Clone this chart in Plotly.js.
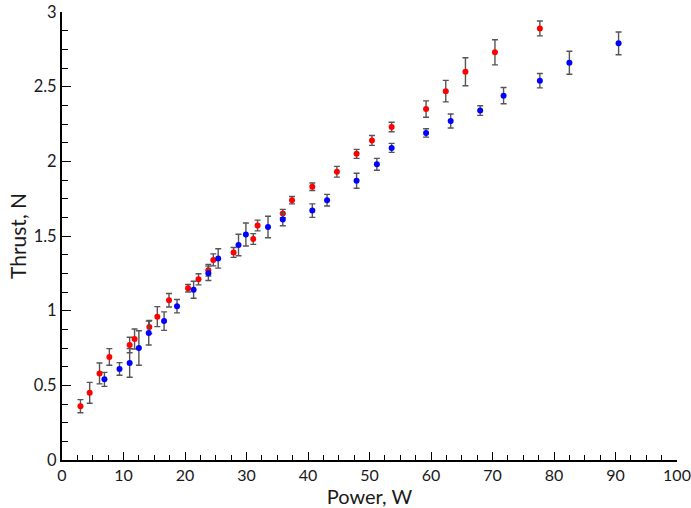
<!DOCTYPE html>
<html>
<head>
<meta charset="utf-8">
<script src="https://cdn.plot.ly/plotly-3.0.1.min.js"></script>
<style>
  html, body { margin: 0; padding: 0; background: #fff; }
  #chart { width: 691px; height: 508px; }
</style>
</head>
<body>
<div id="chart"></div>
<script>
// Thrust vs. electrical power, two data sets with measurement uncertainty
const redPower  = [3.0, 4.5, 6.1, 7.7, 11.0, 11.8, 14.2, 15.5, 17.4, 20.5, 22.2, 23.8, 24.6, 27.9,
                   31.1, 31.8, 35.9, 37.4, 40.7, 44.7, 47.9, 50.4, 53.6, 59.2, 62.4, 65.6, 70.4, 77.7];
const redThrust = [0.36, 0.45, 0.58, 0.69, 0.77, 0.81, 0.89, 0.96, 1.07, 1.15, 1.21, 1.27, 1.34, 1.39,
                   1.48, 1.57, 1.65, 1.74, 1.83, 1.93, 2.05, 2.14, 2.23, 2.35, 2.47, 2.60, 2.73, 2.89];
const redErr    = [0.044, 0.07, 0.07, 0.056, 0.052, 0.067, 0.044, 0.067, 0.045, 0.025, 0.037, 0.039, 0.04, 0.033,
                   0.036, 0.036, 0.028, 0.025, 0.025, 0.036, 0.03, 0.033, 0.032, 0.055, 0.072, 0.094, 0.084, 0.05];

const bluePower  = [6.9, 9.35, 11.0, 12.5, 14.1, 16.6, 18.7, 21.4, 23.8, 25.4, 28.7, 29.9, 33.5,
                    35.9, 40.7, 43.1, 47.9, 51.2, 53.6, 59.2, 63.2, 68.0, 71.8, 77.7, 82.5, 90.5];
const blueThrust = [0.54, 0.61, 0.65, 0.75, 0.85, 0.93, 1.03, 1.14, 1.25, 1.35, 1.44, 1.51, 1.56,
                    1.61, 1.67, 1.74, 1.87, 1.98, 2.09, 2.19, 2.27, 2.34, 2.44, 2.54, 2.66, 2.79];
const blueErr    = [0.047, 0.042, 0.096, 0.116, 0.08, 0.062, 0.045, 0.057, 0.048, 0.065, 0.072, 0.077, 0.072,
                    0.041, 0.045, 0.039, 0.05, 0.04, 0.03, 0.028, 0.047, 0.032, 0.054, 0.048, 0.077, 0.076];

const xTickVals = [0, 10, 20, 30, 40, 50, 60, 70, 80, 90, 100];
const yTickVals = [0, 0.5, 1, 1.5, 2, 2.5, 3];
const yTickText = ['0', '0.5', '1', '1.5', '2', '2.5', '3'];

const FONT = 'Lato, "Open Sans", sans-serif';
const TEXT_COLOR = '#1a1a1a';

function series(x, y, err, color) {
  return {
    x: x, y: y, type: 'scatter', mode: 'markers',
    marker: { color: color, size: 6, line: { width: 0 } },
    error_y: { type: 'data', array: err, visible: true, color: '#555', thickness: 1.4, width: 3 },
    showlegend: false, hoverinfo: 'x+y'
  };
}

const data = [
  series(redPower, redThrust, redErr, '#ff0000'),
  series(bluePower, blueThrust, blueErr, '#0000ff')
];

const layout = {
  width: 691, height: 508,
  margin: { l: 62, r: 14, t: 12, b: 48 },
  paper_bgcolor: '#fff', plot_bgcolor: '#fff',
  font: { family: FONT, size: 16, color: TEXT_COLOR },
  xaxis: {
    range: [0, 100], tickvals: xTickVals, ticktext: xTickVals.map(String),
    showgrid: false, zeroline: false,
    showline: true, linecolor: '#000', linewidth: 2,
    ticks: 'inside', ticklen: 8, tickwidth: 1, tickcolor: '#000',
    minor: { dtick: 2.5, ticks: 'inside', ticklen: 5, tickwidth: 1, tickcolor: '#000', showgrid: false },
    ticklabeloverflow: 'allow',
    tickfont: { family: FONT, size: 16, color: TEXT_COLOR },
    title: { text: 'Power, W', font: { family: FONT, size: 20, color: TEXT_COLOR }, standoff: 7 }
  },
  yaxis: {
    range: [0, 3], tickvals: yTickVals, ticktext: yTickText,
    showgrid: false, zeroline: false,
    showline: true, linecolor: '#000', linewidth: 2,
    ticks: 'inside', ticklen: 9, tickwidth: 1, tickcolor: '#000',
    minor: { dtick: 0.125, ticks: 'inside', ticklen: 6, tickwidth: 1, tickcolor: '#000', showgrid: false },
    ticklabeloverflow: 'allow',
    tickfont: { family: FONT, size: 16.5, color: TEXT_COLOR },
    title: { text: 'Thrust, N', font: { family: FONT, size: 21, color: TEXT_COLOR }, standoff: 1 }
  }
};

Plotly.newPlot('chart', data, layout, { displayModeBar: false, staticPlot: true });
</script>
</body>
</html>
